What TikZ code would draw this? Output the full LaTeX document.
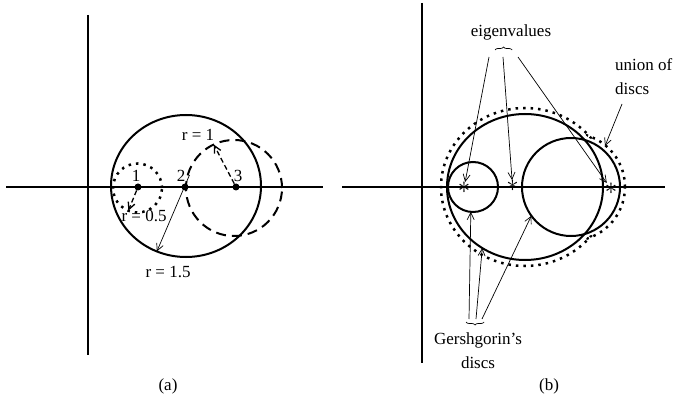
\documentclass[tikz,border=0pt]{standalone}
\usepackage{fontspec}
\setmainfont{Liberation Serif}
\usetikzlibrary{arrows.meta,shapes.geometric,decorations.pathreplacing}
\tikzset{
  gdisc/.style={draw, line width=2pt, inner sep=0pt, outer sep=0pt},
  axisline/.style={line width=1.4pt},
  dotpt/.style={circle, fill, inner sep=0pt, minimum size=7pt},
  eigpt/.style={inner sep=0pt, font=\fontsize{27}{27}\selectfont},
  pointer/.style={->, line width=0.7pt},
  radline/.style={->, line width=1.3pt, dash pattern=on 5pt off 3pt},
  dotline/.style={line width=2.5pt, dash pattern=on 2.5pt off 5pt},
  gbrace/.style={decorate, decoration={brace, amplitude=3pt}, line width=0.7pt},
}
\begin{document}
\begin{tikzpicture}[x=1pt, y=-1pt, >={Straight Barb[length=7pt, width=7pt]},
  every node/.style={font=\fontsize{17}{24}\selectfont}]
  \useasboundingbox (0,0) rectangle (674,403);
  \draw[axisline] (88,15) -- (88,355);
  \draw[axisline] (6,187) -- (323,187);
  \node[gdisc, ellipse, minimum width=150pt, minimum height=142pt] (big a) at (186,186) {};
  \node[gdisc, circle, line width=2.5pt, dash pattern=on 2.5pt off 5pt, minimum size=49pt] (dot a) at (137.5,188) {};
  \node[gdisc, circle, dash pattern=on 10pt off 6pt, minimum size=96pt] (dash a) at (234,188) {};
  \foreach \i/\x/\lx in {1/138/136, 2/185/181, 3/236/238} {
    \node[dotpt] (p\i) at (\x,187) {};
    \node (n\i) at (\lx,176) {\i};
  }
  \draw[radline] (p1) -- (dot a.248);
  \draw[radline] (p3) -- (dash a.115);
  \coordinate (r15) at (189.5,175);
  \draw[pointer] (r15) -- (big a.246);
  \node (ra) at (198,135) {r = 1};
  \node (rb) at (144,216) {r = 0.5};
  \node (rc) at (168,272) {r = 1.5};
  \node (cap a) at (168,386) {(a)};

  \draw[dotline] (525,187) ellipse (84pt and 79pt);
  \draw[dotline] (571,187) circle (54pt);
  \fill[white] (525,187) ellipse (82pt and 77pt);
  \fill[white] (571,187) circle (52pt);
  \draw[axisline] (422,3) -- (422,363);
  \draw[axisline, line width=1.8pt] (342,187) -- (665,187);
  \node[gdisc, ellipse, minimum width=156pt, minimum height=146pt] (big) at (525,187) {};
  \node[gdisc, circle, minimum size=50pt] (small) at (473,187) {};
  \node[gdisc, circle, minimum size=98pt] (right) at (571,187) {};
  \foreach \i/\x/\y in {1/464/188, 2/512.5/186, 3/611/189}
    \node[eigpt] (e\i) at (\x,\y) {$\ast$};
  \node (eig) at (511,32) {eigenvalues};
  \draw[gbrace] (495,50) -- (512,50);
  \foreach \i/\x in {1/489, 2/503, 3/518} {
    \coordinate (ev\i) at (\x,57);
    \draw[pointer] (ev\i) -- (e\i);
  }
  \node[align=left, anchor=west, inner sep=0pt] (union) at (615,77) {union of\\discs};
  \coordinate (un) at (622,104);
  \coordinate (un tip) at (605,146);
  \draw[pointer] (un) -- (un tip);
  \node[align=center] (gersh) at (478,351) {Gershgorin’s\\discs};
  \draw[gbrace] (484,322) -- (466,322);
  \foreach \i/\x in {1/469, 2/476, 3/482}
    \coordinate (gs\i) at (\x,319);
  \draw[pointer] (gs1) -- (small.265);
  \draw[pointer] (gs2) -- (big.235);
  \draw[pointer] (gs3) -- (right.216);
  \node (cap b) at (549,386) {(b)};
\end{tikzpicture}
\end{document}
